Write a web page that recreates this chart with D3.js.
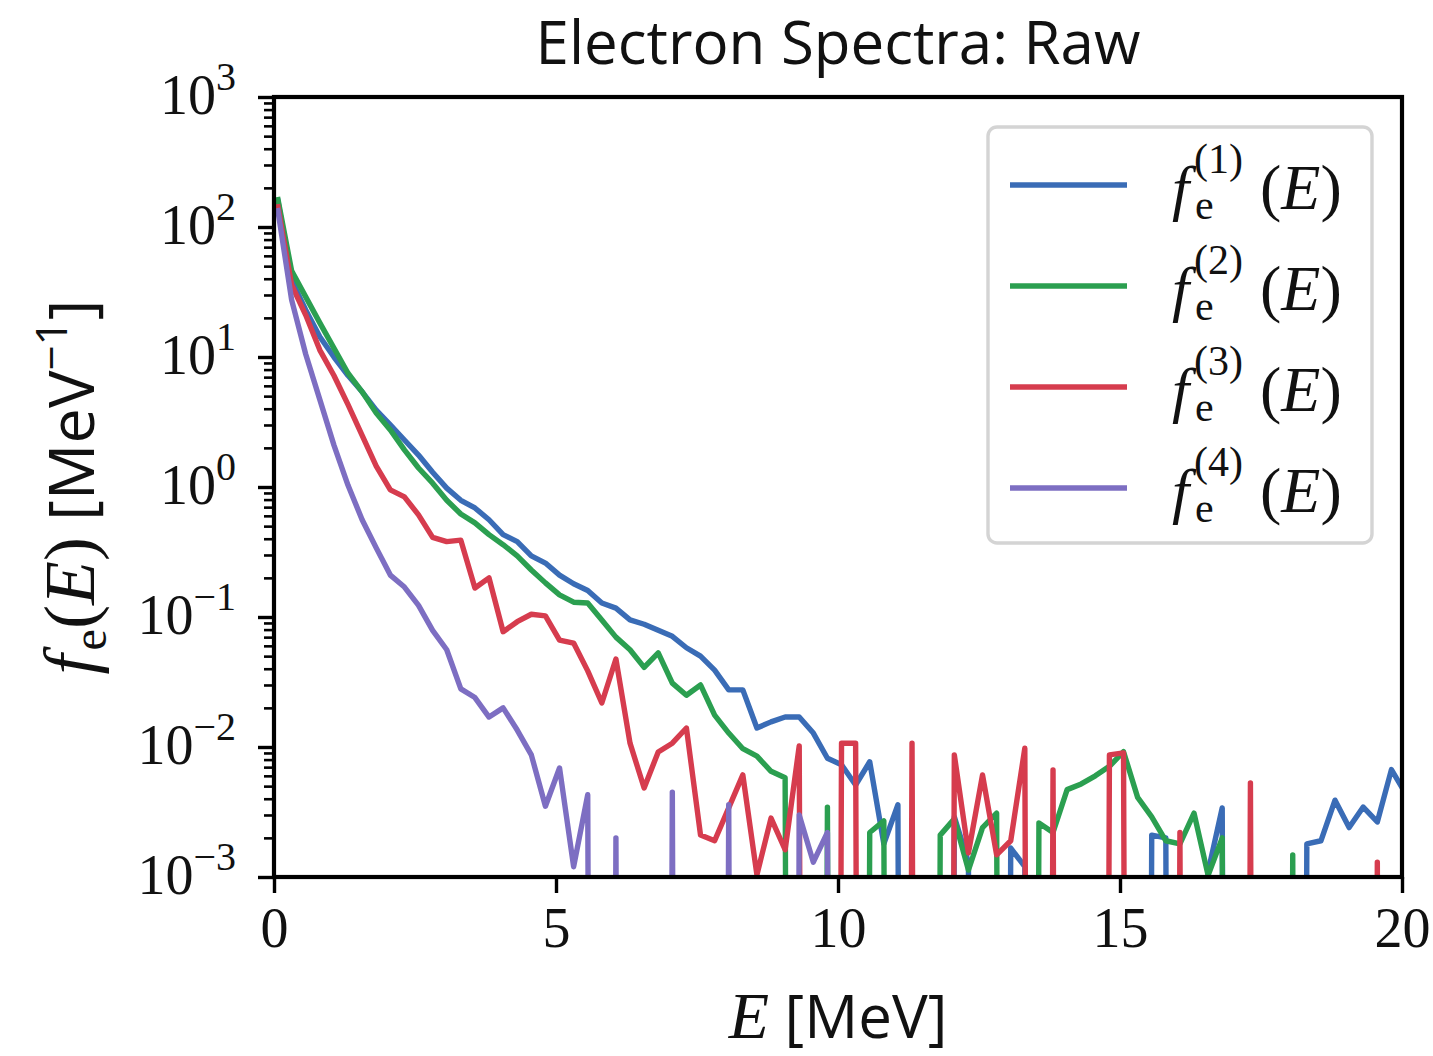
<!DOCTYPE html>
<html>
<head>
<meta charset="utf-8">
<script src="https://cdn.jsdelivr.net/npm/d3@7"></script>
<style>
  html, body { margin: 0; padding: 0; background: #fff; }
  svg { display: block; }
</style>
</head>
<body>
<div id="chart"></div>
<script>
// bin centres [MeV]
const energy = [0.0625,0.3125,0.5625,0.8125,1.0625,1.3125,1.5625,1.8125,2.0625,2.3125,
  2.5625,2.8125,3.0625,3.3125,3.5625,3.8125,4.0625,4.3125,4.5625,4.8125,
  5.0625,5.3125,5.5625,5.8125,6.0625,6.3125,6.5625,6.8125,7.0625,7.3125,
  7.5625,7.8125,8.0625,8.3125,8.5625,8.8125,9.0625,9.3125,9.5625,9.8125,
  10.0625,10.3125,10.5625,10.8125,11.0625,11.3125,11.5625,11.8125,12.0625,12.3125,
  12.5625,12.8125,13.0625,13.3125,13.5625,13.8125,14.0625,14.3125,14.5625,14.8125,
  15.0625,15.3125,15.5625,15.8125,16.0625,16.3125,16.5625,16.8125,17.0625,17.3125,
  17.5625,17.8125,18.0625,18.3125,18.5625,18.8125,19.0625,19.3125,19.5625,19.8125,
  20.0625]

// f_e^(1..4)(E) [MeV^-1], 0 = empty bin
const f1 = [165,39,23,14.3,10,7.2,5.4,3.9,3.0,2.3,
  1.76,1.3,0.98,0.79,0.69,0.56,0.43,0.38,0.295,0.26,
  0.21,0.18,0.16,0.128,0.117,0.095,0.088,0.079,0.071,0.058,
  0.05,0.039,0.0275,0.0275,0.014,0.0156,0.017,0.017,0.0128,0.0082,
  0.0073,0.0051,0.0077,0.0018,0.0036,0,0,0,0.0029,0.0013,
  0,0,0.00167,0.0012,0,0,0,0,0,0,
  0,0,0.0021,0.002,0,0,0.0011,0.0034,0,0,
  0,0,0,0.0018,0.0019,0.0039,0.0024,0.00345,0.00265,0.0067,
  0.0044]
const f2 = [170,46,29,18.3,11.7,7.5,5.4,3.7,2.75,1.93,
  1.4,1.07,0.79,0.62,0.53,0.43,0.36,0.295,0.23,0.183,
  0.148,0.13,0.128,0.095,0.070,0.056,0.041,0.053,0.031,0.025,
  0.030,0.0176,0.0128,0.0097,0.0085,0.0065,0.0058,0,0,0.00345,
  0,0,0.0022,0.0027,0,0,0,0.0021,0.0028,0.00113,
  0.0024,0.0031,0,0,0.0026,0.0022,0.0047,0.0052,0.006,0.0071,
  0.0092,0.0041,0.0029,0.0019,0.0018,0.0031,0.00103,0.002,0,0,
  0,0,0.00148,0,0,0,0,0,0,0,
  0]
const f3 = [150,35.8,21,11.3,7.2,4.3,2.5,1.45,0.95,0.84,
  0.61,0.41,0.38,0.39,0.167,0.2,0.077,0.092,0.105,0.102,
  0.0665,0.063,0.0385,0.0218,0.0475,0.0107,0.00484,0.00916,0.0107,0.014,
  0.0021,0.0019,0.0034,0.0061,0.00104,0.00284,0.00162,0.0102,0,0,
  0.0107,0.0107,0,0,0,0.0107,0,0,0.0087,0.00153,
  0.0061,0.00148,0.0019,0.0098,0,0.00665,0,0,0,0.0087,
  0.009,0,0,0,0.0022,0,0,0,0,0.0053,
  0,0,0,0,0,0,0,0,0.0013,0,
  0]
const f4 = [140,27.5,10.5,4.7,2.1,1.03,0.56,0.34,0.21,0.17,
  0.123,0.079,0.056,0.028,0.024,0.017,0.020,0.0135,0.0087,0.0035,
  0.0069,0.0012,0.0043,0,0.002,0,0,0,0.0045,0,
  0,0,0.0036,0,0,0,0,0.0030,0.0013,0.0022,
  0,0,0,0,0,0,0,0,0,0,
  0,0,0,0,0,0,0,0,0,0,
  0,0,0,0,0,0,0,0,0,0,
  0,0,0,0,0,0,0,0,0,0,
  0]

const series = [f1, f2, f3, f4]
const seriesNames = ["1", "2", "3", "4"]
const colors = ["#3a6cb6", "#2b9f50", "#d63c4e", "#7d6ec2"]

const xTicks = [0, 5, 10, 15, 20]
const yTicks = [1e-3, 1e-2, 1e-1, 1e0, 1e1, 1e2, 1e3]
const yExps = ["\u22123", "\u22122", "\u22121", "0", "1", "2", "3"]

const width = 1433
const height = 1056
const marginTop = 97
const marginRight = 31
const marginBottom = 179
const marginLeft = 274
const innerW = width - marginLeft - marginRight
const innerH = height - marginTop - marginBottom

const serif = "'Liberation Serif', 'DejaVu Serif', serif"
const sans = "'Open Sans', 'DejaVu Sans', sans-serif"

const svg = d3.select("#chart").append("svg")
  .attr("width", width)
  .attr("height", height)
  .attr("viewBox", [0, 0, width, height])

const x = d3.scaleLinear().domain([0, 20]).range([0, innerW])
const y = d3.scaleLog().domain([1e-3, 1e3]).range([innerH, 0])

const g = svg.append("g").attr("transform", `translate(${marginLeft},${marginTop})`)

g.append("clipPath").attr("id", "plot-clip")
  .append("rect").attr("width", innerW).attr("height", innerH)

// empty bins fall far below the axis, like matplotlib's log clipping
const floorValue = 1e-30
const line = d3.line()
  .x((d, i) => x(energy[i]))
  .y(d => y(d > 0 ? d : floorValue))

g.append("g")
  .attr("clip-path", "url(#plot-clip)")
  .selectAll("path")
  .data(series)
  .join("path")
  .attr("d", d => line(d))
  .attr("fill", "none")
  .attr("stroke", (d, i) => colors[i])
  .attr("stroke-width", 5.4)
  .attr("stroke-linejoin", "round")

// minor y ticks
const minorTicks = []
for (let e = -3; e < 3; e++) {
  for (let m = 2; m <= 9; m++) minorTicks.push(m * Math.pow(10, e))
}
g.append("g")
  .call(d3.axisLeft(y).tickValues(minorTicks).tickSize(10).tickFormat(""))
  .call(a => a.select(".domain").remove())
  .call(a => a.selectAll(".tick line").attr("stroke", "#000").attr("stroke-width", 2.6))

// major y ticks with 10^n labels
g.append("g")
  .call(d3.axisLeft(y).tickValues(yTicks).tickSize(16).tickPadding(22).tickFormat(""))
  .call(a => a.select(".domain").remove())
  .call(a => a.selectAll(".tick line").attr("stroke", "#000").attr("stroke-width", 3.4))
  .call(a => a.selectAll(".tick text").each(function (d, i) {
    const t = d3.select(this)
      .attr("fill", "#111")
      .attr("font-family", serif)
      .attr("font-size", 56)
      .attr("dy", 16)
    t.append("tspan").text("10")
    t.append("tspan").attr("font-size", 40).attr("dy", -24).text(yExps[i])
  }))

// x ticks
g.append("g")
  .attr("transform", `translate(0,${innerH})`)
  .call(d3.axisBottom(x).tickValues(xTicks).tickSize(16).tickPadding(14).tickFormat(d3.format("d")))
  .call(a => a.select(".domain").remove())
  .call(a => a.selectAll(".tick line").attr("stroke", "#000").attr("stroke-width", 3.4))
  .call(a => a.selectAll(".tick text")
    .attr("fill", "#111")
    .attr("font-family", serif)
    .attr("font-size", 56)
    .attr("dy", "0.71em"))

// frame
g.append("rect")
  .attr("width", innerW)
  .attr("height", innerH)
  .attr("fill", "none")
  .attr("stroke", "#000")
  .attr("stroke-width", 4.2)

// title
svg.append("text")
  .attr("x", marginLeft + innerW / 2)
  .attr("y", 64)
  .attr("text-anchor", "middle")
  .attr("font-family", sans)
  .attr("font-size", 60)
  .attr("fill", "#111")
  .text("Electron Spectra: Raw")

// x label
const xl = svg.append("text")
  .attr("x", marginLeft + innerW / 2)
  .attr("y", 1038)
  .attr("text-anchor", "middle")
  .attr("fill", "#111")
xl.append("tspan").attr("font-family", serif).attr("font-style", "italic").attr("font-size", 66).text("E")
xl.append("tspan").attr("font-family", sans).attr("font-size", 60).text(" [MeV]")

// y label
const yl = svg.append("text")
  .attr("transform", `translate(94,${marginTop + innerH / 2}) rotate(-90)`)
  .attr("text-anchor", "middle")
  .attr("fill", "#111")
yl.append("tspan").attr("font-family", serif).attr("font-style", "italic").attr("font-size", 72).text("f")
yl.append("tspan").attr("font-family", serif).attr("font-size", 48).attr("dx", 4).attr("dy", 12).text("e")
yl.append("tspan").attr("font-family", serif).attr("font-size", 72).attr("dy", -12).text("(")
yl.append("tspan").attr("font-family", serif).attr("font-style", "italic").attr("font-size", 72).text("E")
yl.append("tspan").attr("font-family", serif).attr("font-size", 72).text(")")
yl.append("tspan").attr("font-family", sans).attr("font-size", 63).text(" [MeV")
yl.append("tspan").attr("font-family", sans).attr("font-size", 44).attr("dy", -27).text("\u22121")
yl.append("tspan").attr("font-family", sans).attr("font-size", 63).attr("dy", 27).text("]")

// legend
const legend = svg.append("g").attr("transform", "translate(988,127)")
legend.append("rect")
  .attr("width", 384)
  .attr("height", 416)
  .attr("rx", 9)
  .attr("fill", "rgba(255,255,255,0.85)")
  .attr("stroke", "#d4d4d4")
  .attr("stroke-width", 3.4)

const rows = legend.selectAll("g.row")
  .data(seriesNames)
  .join("g")
  .attr("class", "row")
  .attr("transform", (d, i) => `translate(0,${58 + i * 101})`)

rows.append("line")
  .attr("x1", 22).attr("x2", 139)
  .attr("stroke", (d, i) => colors[i])
  .attr("stroke-width", 5.4)

rows.append("text")
  .attr("x", 184).attr("y", 24)
  .attr("font-family", serif).attr("font-style", "italic").attr("font-size", 62)
  .attr("fill", "#111")
  .text("f")
rows.append("text")
  .attr("x", 207).attr("y", 34)
  .attr("font-family", serif).attr("font-size", 42)
  .attr("fill", "#111")
  .text("e")
rows.append("text")
  .attr("x", 206).attr("y", -12)
  .attr("font-family", serif).attr("font-size", 42)
  .attr("fill", "#111")
  .text(d => `(${d})`)
rows.append("text")
  .attr("x", 272).attr("y", 24)
  .attr("fill", "#111")
  .call(t => {
    t.append("tspan").attr("font-family", serif).attr("font-size", 64).text("(")
    t.append("tspan").attr("font-family", serif).attr("font-style", "italic").attr("font-size", 64).text("E")
    t.append("tspan").attr("font-family", serif).attr("font-size", 64).text(")")
  })
</script>
</body>
</html>
